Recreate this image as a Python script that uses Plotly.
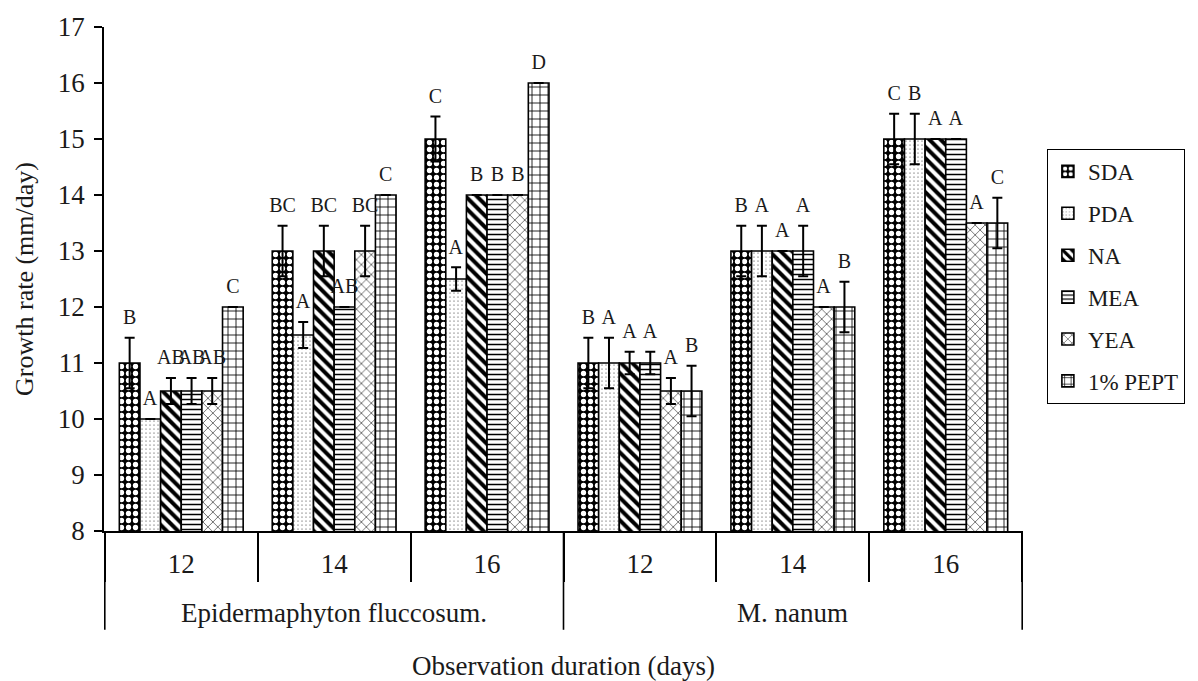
import plotly.graph_objects as go

# ---------------- data ----------------
species = ["Epidermaphyton fluccosum.", "M. nanum"]
days = ["12", "14", "16"]
media = ["SDA", "PDA", "NA", "MEA", "YEA", "1% PEPT"]

sda = [11, 13, 15, 11, 13, 15]
pda = [10, 11.5, 12.5, 11, 13, 15]
na = [10.5, 13, 14, 11, 13, 15]
mea = [10.5, 12, 14, 11, 13, 15]
yea = [10.5, 13, 14, 10.5, 12, 13.5]
pept = [12, 14, 16, 10.5, 12, 13.5]

sda_err = [0.45, 0.45, 0.4, 0.45, 0.45, 0.45]
pda_err = [0, 0.23, 0.21, 0.45, 0.45, 0.45]
na_err = [0.23, 0.45, 0, 0.2, 0, 0]
mea_err = [0.23, 0, 0, 0.2, 0.45, 0]
yea_err = [0.23, 0.45, 0, 0.23, 0, 0]
pept_err = [0, 0, 0, 0.45, 0.45, 0.45]

sda_lbl = ["B", "BC", "C", "B", "B", "C"]
pda_lbl = ["A", "A", "A", "A", "A", "B"]
na_lbl = ["AB", "BC", "B", "A", "A", "A"]
mea_lbl = ["AB", "AB", "B", "A", "A", "A"]
yea_lbl = ["AB", "BC", "B", "A", "A", "A"]
pept_lbl = ["C", "C", "D", "B", "B", "C"]

y_ticks = [8, 9, 10, 11, 12, 13, 14, 15, 16, 17]

values = [sda, pda, na, mea, yea, pept]
errors = [sda_err, pda_err, na_err, mea_err, yea_err, pept_err]
letters = [sda_lbl, pda_lbl, na_lbl, mea_lbl, yea_lbl, pept_lbl]

# ---------------- styles ----------------
FONT = "Liberation Serif"
TXT = "#1a1a1a"
LABEL_PAD = 0.12  # gap (in axis units) between error-bar top and letter label
patterns = [
    dict(shape=".", bgcolor="black", fgcolor="white", size=7, solidity=0.45, fgopacity=1),
    dict(shape=".", bgcolor="white", fgcolor="black", size=4, solidity=0.05, fgopacity=1),
    dict(shape="\\", bgcolor="white", fgcolor="black", size=8, solidity=0.5, fgopacity=1),
    dict(shape="-", bgcolor="white", fgcolor="black", size=5, solidity=0.3, fgopacity=1),
    dict(shape="x", bgcolor="white", fgcolor="black", size=7, solidity=0.15, fgopacity=1),
    dict(shape="+", bgcolor="white", fgcolor="black", size=8, solidity=0.2, fgopacity=1),
]

cats = [f"{s} {d}" for s in species for d in days]
tick_text = [d for s in species for d in days]

fig = go.Figure()
for i, name in enumerate(media):
    fig.add_bar(
        x=cats, y=values[i], name=name, offsetgroup=str(i), legendgroup=name,
        marker=dict(color="white", line=dict(color="black", width=1.6), pattern=patterns[i]),
        error_y=dict(type="data", array=errors[i], visible=True, color="black",
                     thickness=2, width=5),
    )
for i, name in enumerate(media):
    tops = [v + e + LABEL_PAD for v, e in zip(values[i], errors[i])]
    fig.add_bar(
        x=cats, y=tops, offsetgroup=str(i), showlegend=False, hoverinfo="skip",
        marker=dict(color="rgba(0,0,0,0)", line=dict(width=0)),
        text=letters[i], textposition="outside", constraintext="none", cliponaxis=False,
        textfont=dict(family=FONT, size=20, color=TXT),
    )

# long dividers between species groups
n_per = len(days)
for k in range(len(species) + 1):
    fig.add_shape(type="line", xref="x", yref="paper",
                  x0=k * n_per - 0.5, x1=k * n_per - 0.5, y0=0, y1=-0.196,
                  line=dict(color="black", width=1.6))
for k, s in enumerate(species):
    fig.add_annotation(text=s, xref="x", yref="paper", x=k * n_per + (n_per - 1) / 2,
                       y=-0.163, showarrow=False, yanchor="middle",
                       font=dict(family=FONT, size=27, color=TXT))

# page body has an 8px margin, so the figure is 8px smaller and offset
fig.update_layout(
    width=1190, height=673,
    margin=dict(l=96, r=175, t=19, b=150, autoexpand=False),
    paper_bgcolor="white", plot_bgcolor="white",
    barmode="group", bargap=0.19, bargroupgap=0,
    font=dict(family=FONT, color=TXT),
    showlegend=True,
    legend=dict(x=1.026, y=0.758, xanchor="left", yanchor="top",
                font=dict(family=FONT, size=23, color=TXT),
                bordercolor="black", borderwidth=1,
                traceorder="grouped", tracegroupgap=9),
    xaxis=dict(
        type="category", tickmode="array", tickvals=cats, ticktext=tick_text,
        tickson="boundaries", ticks="outside", ticklen=49, tickwidth=1.6, tickcolor="black",
        ticklabelstandoff=8, automargin=False,
        showline=True, linecolor="black", linewidth=1.6, showgrid=False,
        tickfont=dict(family=FONT, size=27, color=TXT),
        title=dict(text="Observation duration (days)", standoff=80,
                   font=dict(family=FONT, size=27, color=TXT)),
    ),
    yaxis=dict(
        range=[8, 17], tickmode="array", tickvals=y_ticks,
        ticks="outside", ticklen=8, tickwidth=1.6, tickcolor="black",
        ticklabelstandoff=4, automargin=False,
        showline=True, linecolor="black", linewidth=1.6, showgrid=False, zeroline=False,
        tickfont=dict(family=FONT, size=27, color=TXT),
        title=dict(text="Growth rate (mm/day)", standoff=17,
                   font=dict(family=FONT, size=26, color=TXT)),
    ),
)

fig.write_html("out.html")
